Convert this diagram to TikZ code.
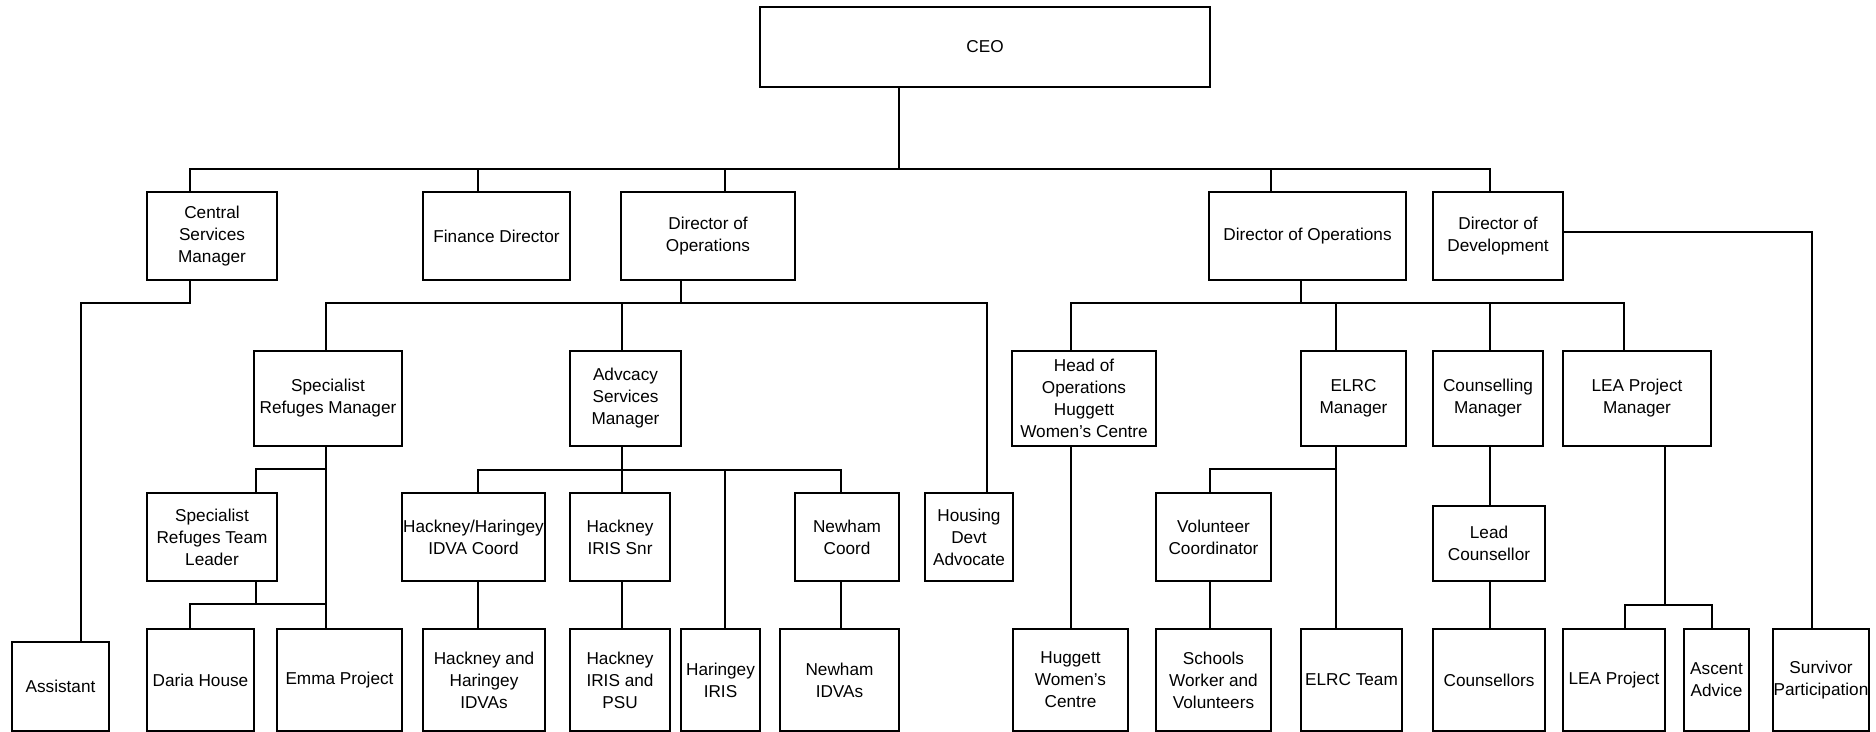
\documentclass[tikz,border=0pt]{standalone}
\usepackage{fontspec}
\setmainfont{Liberation Sans}

\begin{document}
\begin{tikzpicture}[x=0.5pt, y=-0.5pt, line width=0.7pt,
    post/.style 2 args={draw, align=center, inner sep=0pt,
      minimum width=#1*0.5pt, minimum height=#2*0.5pt,
      font=\fontsize{8.6}{11}\selectfont}]
  \useasboundingbox (0,0) rectangle (1876,732);

  % top
  \node[post={450}{80}] (ceo) at (985,47) {CEO};

  % directors
  \node[post={130}{88}] (csm) at (212,236) {Central\\Services\\Manager};
  \node[post={147}{88}] (fin) at (496.5,236) {Finance Director};
  \node[post={174}{88}] (dol) at (708,236) {Director of\\Operations};
  \node[post={197}{88}] (dor) at (1307.5,236) {Director of Operations};
  \node[post={130}{88}] (dev) at (1498,236) {Director of\\Development};

  % managers
  \node[post={148}{95}] (srm) at (328,398.5) {Specialist\\Refuges Manager};
  \node[post={111}{95}] (asm) at (625.5,398.5) {Advcacy\\Services\\Manager};
  \node[post={144}{95}] (hoh) at (1084,398.5) {Head of\\Operations\\Huggett\\Women's Centre};
  \node[post={105}{95}] (elrc) at (1353.5,398.5) {ELRC\\Manager};
  \node[post={110}{95}] (cm) at (1488,398.5) {Counselling\\Manager};
  \node[post={148}{95}] (leam) at (1637,398.5) {LEA Project\\Manager};

  % team leads
  \node[post={130}{88}] (srtl) at (212,537) {Specialist\\Refuges Team\\Leader};
  \node[post={143}{88}] (hhc) at (473.5,537) {Hackney/Haringey\\IDVA Coord};
  \node[post={100}{88}] (his) at (620,537) {Hackney\\IRIS Snr};
  \node[post={104}{88}] (nc) at (847,537) {Newham\\Coord};
  \node[post={88}{88}] (hda) at (969,537) {Housing\\Devt\\Advocate};
  \node[post={115}{88}] (vc) at (1213.5,537) {Volunteer\\Coordinator};
  \node[post={112}{75}] (lc) at (1489,543.5) {Lead\\Counsellor};

  % teams
  \node[post={97}{89}] (asst) at (60.5,686.5) {Assistant};
  \node[post={107}{102}] (daria) at (200.5,680) {Daria House};
  \node[post={125}{102}] (emma) at (339.5,680) {Emma Project};
  \node[post={122}{102}] (hhi) at (484,680) {Hackney and\\Haringey\\IDVAs};
  \node[post={100}{102}] (hip) at (620,680) {Hackney\\IRIS and\\PSU};
  \node[post={79}{102}] (hari) at (720.5,680) {Haringey\\IRIS};
  \node[post={119}{102}] (nidva) at (839.5,680) {Newham\\IDVAs};
  \node[post={115}{102}] (hwc) at (1070.5,680) {Huggett\\Women's\\Centre};
  \node[post={115}{102}] (swv) at (1213.5,680) {Schools\\Worker and\\Volunteers};
  \node[post={101}{102}] (et) at (1351.5,680) {ELRC Team};
  \node[post={112}{102}] (cou) at (1489,680) {Counsellors};
  \node[post={102}{102}] (leap) at (1614,680) {LEA Project};
  \node[post={65}{102}] (aa) at (1716.5,680) {Ascent\\Advice};
  \node[post={96}{102}] (sp) at (1821,680) {Survivor\\Participation};

  % CEO to directors
  \draw (899,0 |- ceo.south) -- (899,169);
  \draw (190,0 |- csm.north) |- (1490,169) -- (1490,0 |- dev.north);
  \foreach \x/\n in {478/fin, 725/dol, 1271/dor}
    \draw (\x,169) -- (\x,0 |- \n.north);

  % central services, development
  \draw (190,0 |- csm.south) |- (81,303) -- (81,0 |- asst.north);
  \draw (dev.east |- 0,232) -| (1812,0 |- sp.north);

  % left director of operations
  \draw (681,0 |- dol.south) -- (681,303);
  \draw (326,0 |- srm.north) |- (987,303) -- (987,0 |- hda.north);
  \draw (622,303) -- (622,0 |- asm.north);

  % refuges
  \draw (326,0 |- srm.south) -- (326,0 |- emma.north);
  \draw (326,469) -| (256,0 |- srtl.north);
  \draw (256,0 |- srtl.south) -- (256,604);
  \draw (190,0 |- daria.north) |- (326,604);

  % advocacy
  \draw (622,0 |- asm.south) -- (622,470);
  \draw (478,0 |- hhc.north) |- (841,470) -- (841,0 |- nc.north);
  \draw (622,470) -- (622,0 |- his.north);
  \draw (725,470) -- (725,0 |- hari.north);
  \foreach \x/\a/\b in {478/hhc/hhi, 622/his/hip, 841/nc/nidva}
    \draw (\x,0 |- \a.south) -- (\x,0 |- \b.north);

  % right director of operations
  \draw (1301,0 |- dor.south) -- (1301,303);
  \draw (1071,0 |- hoh.north) |- (1624,303) -- (1624,0 |- leam.north);
  \draw (1336,303) -- (1336,0 |- elrc.north);
  \draw (1490,303) -- (1490,0 |- cm.north);
  \draw (1071,0 |- hoh.south) -- (1071,0 |- hwc.north);

  % elrc
  \draw (1336,0 |- elrc.south) -- (1336,0 |- et.north);
  \draw (1336,469) -| (1210,0 |- vc.north);
  \draw (1210,0 |- vc.south) -- (1210,0 |- swv.north);

  % counselling
  \draw (1490,0 |- cm.south) -- (1490,0 |- lc.north);
  \draw (1490,0 |- lc.south) -- (1490,0 |- cou.north);

  % LEA
  \draw (1665,0 |- leam.south) -- (1665,605);
  \draw (1625,0 |- leap.north) |- (1712,605) -- (1712,0 |- aa.north);
\end{tikzpicture}
\end{document}
